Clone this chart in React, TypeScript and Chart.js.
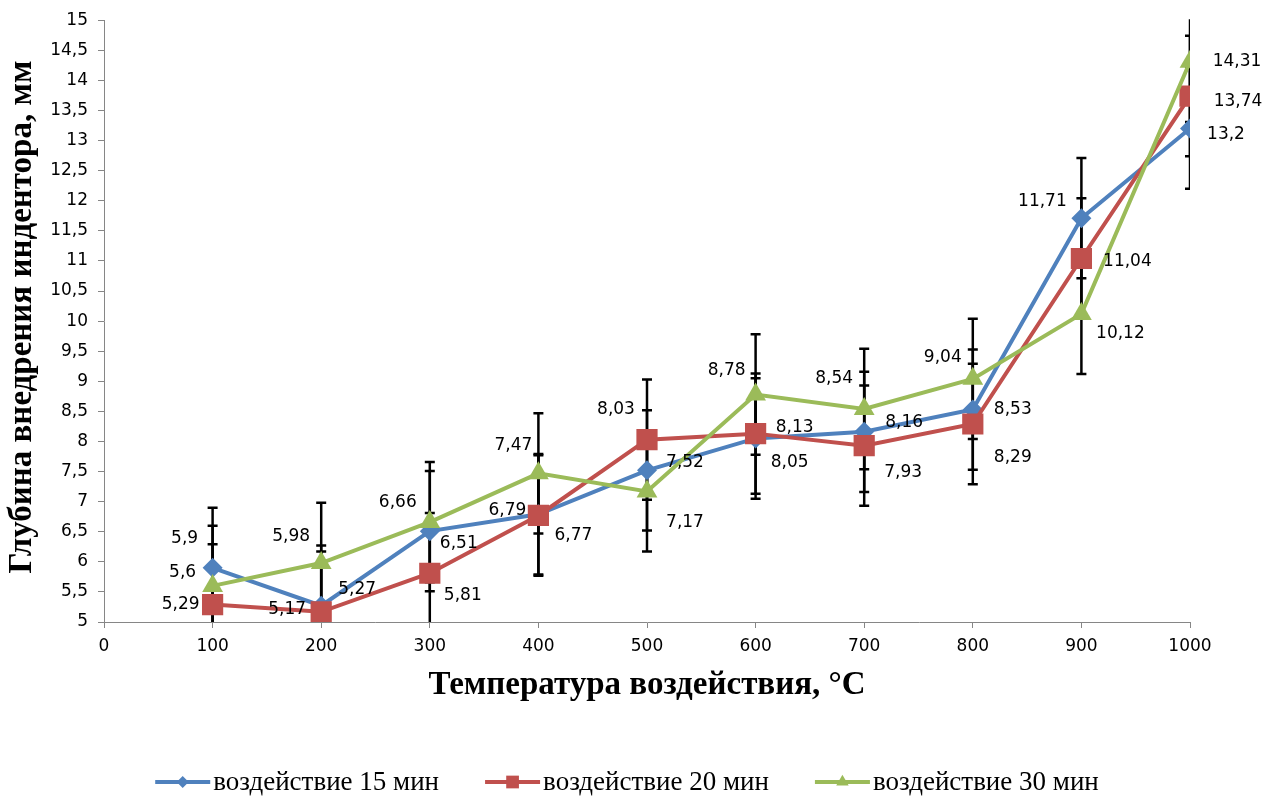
import React, { useEffect, useRef } from 'react';
import { Chart, registerables } from 'chart.js';

Chart.register(...registerables);

// ---- data ----
const temperatures = [100, 200, 300, 400, 500, 600, 700, 800, 900, 1000];
const depth15 = [5.9, 5.27, 6.51, 6.79, 7.52, 8.05, 8.16, 8.53, 11.71, 13.2];
const depth20 = [5.29, 5.17, 5.81, 6.77, 8.03, 8.13, 7.93, 8.29, 11.04, 13.74];
const depth30 = [5.6, 5.98, 6.66, 7.47, 7.17, 8.78, 8.54, 9.04, 10.12, 14.31];
const errorAmount = 1;
const seriesNames = ['воздействие 15 мин', 'воздействие 20 мин', 'воздействие 30 мин'];
const xAxisTitle = 'Температура воздействия, °С';
const yAxisTitle = 'Глубина внедрения индентора, мм';
const xMin = 0;
const xMax = 1000;
const xStep = 100;
const yMin = 5;
const yMax = 15;
const yStep = 0.5;

// ---- label placement (pixel offsets from the point) ----
const labelOffsets15 = [[-28, -29], [36, -16], [29, 12], [-31, -4], [38, -8], [34, 24], [40, -9], [40, 0], [-39, -17], [36, 6]];
const labelOffsets20 = [[-32, 0], [-34, -2], [33, 22], [35, 20], [-31, -30], [39, -6], [39, 27], [40, 34], [46, 3], [48, 6]];
const labelOffsets30 = [[-30, -13], [-30, -26], [-32, -20], [-25, -28], [38, 31], [-29, -24], [-30, -30], [-30, -21], [39, 20], [47, 0]];

const colors = ['#4F81BD', '#C0504D', '#9BBB59'];
const pointStyles = ['rectRot', 'rect', 'triangle'];
const pointRadii = [10, 15, 12];

const fmt = (v: number) => String(Number(v.toFixed(2))).replace('.', ',');
const sansFont = "'DejaVu Sans', Verdana, sans-serif";
const serifFont = "'Liberation Serif', 'Times New Roman', serif";

function drawMarker(ctx: CanvasRenderingContext2D, style: string, x: number, y: number, r: number) {
  ctx.beginPath();
  if (style === 'rectRot') {
    ctx.moveTo(x, y - r);
    ctx.lineTo(x + r, y);
    ctx.lineTo(x, y + r);
    ctx.lineTo(x - r, y);
  } else if (style === 'rect') {
    const s = r * Math.SQRT1_2;
    ctx.rect(x - s, y - s, 2 * s, 2 * s);
  } else {
    for (let i = 0; i < 3; i++) {
      const a = (i * 2 * Math.PI) / 3;
      const px = x + Math.sin(a) * r;
      const py = y - Math.cos(a) * r;
      if (i === 0) ctx.moveTo(px, py);
      else ctx.lineTo(px, py);
    }
  }
  ctx.closePath();
  ctx.fill();
}

const overlayPlugin = {
  id: 'overlay',
  beforeDatasetsDraw(chart: any) {
    const { ctx, chartArea, scales } = chart;
    const x = scales.x;
    const y = scales.y;
    ctx.save();
    ctx.beginPath();
    ctx.rect(chartArea.left, chartArea.top - 1, chartArea.right - chartArea.left, chartArea.bottom - chartArea.top + 1);
    ctx.clip();
    ctx.strokeStyle = '#000';
    ctx.lineWidth = 2.5;
    chart.data.datasets.forEach((ds: any) => {
      ds.data.forEach((p: any) => {
        const px = x.getPixelForValue(p.x);
        const top = y.getPixelForValue(p.y + errorAmount);
        const bot = y.getPixelForValue(p.y - errorAmount);
        ctx.beginPath();
        ctx.moveTo(px, top);
        ctx.lineTo(px, bot);
        ctx.moveTo(px - 5, top);
        ctx.lineTo(px + 5, top);
        ctx.moveTo(px - 5, bot);
        ctx.lineTo(px + 5, bot);
        ctx.stroke();
      });
    });
    ctx.restore();
  },
  afterDatasetsDraw(chart: any) {
    const { ctx, scales } = chart;
    const x = scales.x;
    const y = scales.y;
    ctx.save();
    ctx.font = `17px ${sansFont}`;
    ctx.fillStyle = '#000';
    ctx.textAlign = 'center';
    ctx.textBaseline = 'middle';
    chart.data.datasets.forEach((ds: any) => {
      ds.data.forEach((p: any, i: number) => {
        const off = ds.labelOffsets[i];
        ctx.fillText(fmt(p.y), x.getPixelForValue(p.x) + off[0], y.getPixelForValue(p.y) + off[1]);
      });
    });
    ctx.restore();
  },
  afterDraw(chart: any) {
    const { ctx, chartArea } = chart;
    ctx.save();
    ctx.fillStyle = '#000';
    ctx.font = `bold 33px ${serifFont}`;
    ctx.textAlign = 'center';
    ctx.textBaseline = 'middle';
    ctx.fillText(xAxisTitle, (chartArea.left + chartArea.right) / 2, 685);
    ctx.save();
    ctx.translate(22, (chartArea.top + chartArea.bottom) / 2 - 4);
    ctx.rotate(-Math.PI / 2);
    ctx.fillText(yAxisTitle, 0, 0);
    ctx.restore();

    // legend
    ctx.font = `27px ${serifFont}`;
    ctx.textAlign = 'left';
    ctx.textBaseline = 'middle';
    const lineLen = 55;
    const gap = 3;
    const itemGap = 46;
    const widths = chart.data.datasets.map((ds: any) => ctx.measureText(ds.label).width);
    const total = widths.reduce((a: number, w: number) => a + lineLen + gap + w, 0) + itemGap * (widths.length - 1);
    let cx = 627 - total / 2;
    const ly = 782;
    chart.data.datasets.forEach((ds: any, i: number) => {
      ctx.strokeStyle = ds.borderColor;
      ctx.lineWidth = 4;
      ctx.beginPath();
      ctx.moveTo(cx, ly);
      ctx.lineTo(cx + lineLen, ly);
      ctx.stroke();
      ctx.fillStyle = ds.borderColor;
      drawMarker(ctx, ds.pointStyle, cx + lineLen / 2, ly, ds.pointRadius * 0.6);
      ctx.fillStyle = '#000';
      ctx.fillText(ds.label, cx + lineLen + gap, ly + 1);
      cx += lineLen + gap + widths[i] + itemGap;
    });
    ctx.restore();
  },
};

export default function App() {
  const canvasRef = useRef<HTMLCanvasElement | null>(null);

  useEffect(() => {
    const canvas = canvasRef.current;
    if (!canvas) return;
    const seriesValues = [depth15, depth20, depth30];
    const offsets = [labelOffsets15, labelOffsets20, labelOffsets30];
    const datasets = seriesValues.map((vals, si) => ({
      label: seriesNames[si],
      data: temperatures.map((t, i) => ({ x: t, y: vals[i] })),
      borderColor: colors[si],
      backgroundColor: colors[si],
      borderWidth: 4,
      pointStyle: pointStyles[si],
      pointRadius: pointRadii[si],
      pointHoverRadius: pointRadii[si],
      pointBorderWidth: 0,
      pointBackgroundColor: colors[si],
      tension: 0,
      order: 3 - si,
      labelOffsets: offsets[si],
    }));

    const axisColor = '#868686';
    const tickFont = { family: sansFont, size: 17 };

    const chart = new Chart(canvas, {
      type: 'line',
      data: { datasets: datasets as any },
      options: {
        responsive: false,
        animation: false,
        devicePixelRatio: 1,
        layout: { padding: { top: 18, right: 89, left: 0, bottom: 0 } },
        plugins: { legend: { display: false }, tooltip: { enabled: false } },
        scales: {
          x: {
            type: 'linear',
            min: xMin,
            max: xMax,
            ticks: { stepSize: xStep, font: tickFont, color: '#000', padding: 8, maxRotation: 0, callback: (v: any) => String(v) },
            grid: { display: true, drawOnChartArea: false, drawTicks: true, tickLength: 6, color: axisColor },
            border: { color: axisColor, width: 1 },
            afterFit: (s: any) => { s.height = 174; },
          },
          y: {
            type: 'linear',
            min: yMin,
            max: yMax,
            ticks: {
              stepSize: yStep,
              font: tickFont,
              color: '#000',
              padding: 10,
              autoSkip: false,
              callback: (v: any) => fmt(Number(v)),
            },
            grid: { display: true, drawOnChartArea: false, drawTicks: true, tickLength: 6, color: axisColor },
            border: { color: axisColor, width: 1 },
            afterFit: (s: any) => { s.width = 104; },
          },
        },
      },
      plugins: [overlayPlugin],
    });
    return () => chart.destroy();
  }, []);

  return (
    <div style={{ position: 'absolute', left: 0, top: 0, width: 1279, height: 796, background: '#fff' }}>
      <canvas ref={canvasRef} width={1279} height={796} style={{ display: 'block' }} />
    </div>
  );
}
